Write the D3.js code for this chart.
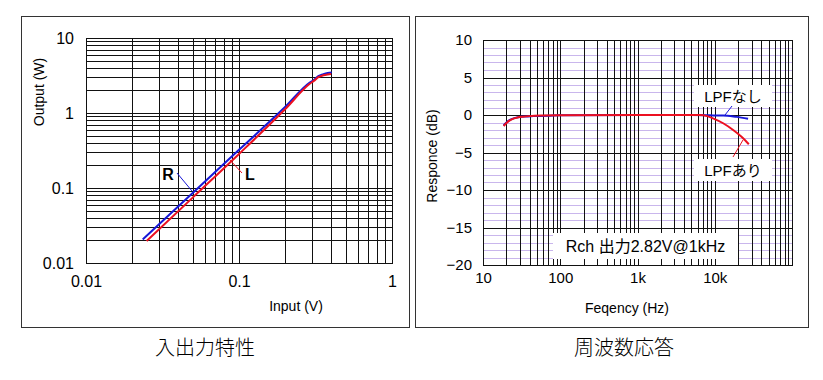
<!DOCTYPE html>
<html><head><meta charset="utf-8">
<script src="https://cdn.jsdelivr.net/npm/d3@7"></script>
<style>body{margin:0;background:#fff}svg{display:block}</style>
</head><body><svg id="c" width="823" height="380"></svg>
<script>
// ---- Input/Output characteristic (left) ----
const ioInputR  = [0.0235, 0.05, 0.1, 0.2, 0.29, 0.31, 0.33, 0.356, 0.38, 0.404];
const ioOutputR = [0.0206, 0.0865, 0.323, 1.20, 2.55, 2.78, 3.1, 3.3, 3.42, 3.47];
const ioInputL  = [0.0249, 0.05, 0.1, 0.2, 0.29, 0.31, 0.33, 0.356, 0.38, 0.40];
const ioOutputL = [0.0197, 0.075, 0.284, 1.12, 2.45, 2.7, 3.0, 3.18, 3.26, 3.3];
const ioXTicks = [0.01, 0.1, 1];
const ioYTicks = [0.01, 0.1, 1, 10];

// ---- Frequency response (right) ----
const freqWith = [18.5, 20.3, 23.5, 28.6, 33, 40, 60, 100, 1000, 3500, 6400, 8000, 9500, 12850, 17300, 23300, 27600];
const respWith = [-1.47, -1.03, -0.57, -0.31, -0.23, -0.15, -0.07, -0.03, 0, 0, 0, -0.15, -0.44, -1.1, -2.0, -3.1, -3.9];
const freqWithout = [18.5, 20.3, 23.5, 28.6, 35, 45, 70, 100, 1000, 5000, 8000, 9500, 12850, 19150, 27000];
const respWithout = [-1.4, -0.95, -0.55, -0.3, -0.2, -0.15, -0.1, -0.03, 0, 0, -0.02, -0.05, -0.05, -0.25, -0.5];
const frXTicks = [10, 100, 1000, 10000];
const frXLabels = ["10", "100", "1k", "10k"];
const frYTicks = [10, 5, 0, -5, -10, -15, -20];

const FONT = "'Liberation Sans', Arial, sans-serif";
const JFONT = "'Noto Sans CJK JP', 'Noto Sans', sans-serif";
const BLUE = "#1717d8", RED = "#ec1020";
const svg = d3.select("#c");

// panel borders
svg.append("rect").attr("x", 21.5).attr("y", 16.5).attr("width", 388).attr("height", 311)
  .attr("fill", "none").attr("stroke", "#333");
svg.append("rect").attr("x", 415.5).attr("y", 16.5).attr("width", 393).attr("height", 311)
  .attr("fill", "none").attr("stroke", "#333");

const px = v => Math.round(v) + 0.5;

// ===== Left chart =====
{
  const x = d3.scaleLog().domain([0.01, 1]).range([86, 392]);
  const y = d3.scaleLog().domain([0.01, 10]).range([263, 38]);
  const g = svg.append("g");
  g.selectAll(".vx").data(x.ticks()).join("line")
    .attr("x1", d => px(x(d))).attr("x2", d => px(x(d))).attr("y1", 38).attr("y2", 263)
    .attr("stroke", "#111").attr("stroke-width", 1);
  g.selectAll(".hy").data(y.ticks()).join("line")
    .attr("y1", d => px(y(d))).attr("y2", d => px(y(d))).attr("x1", 86).attr("x2", 392)
    .attr("stroke", "#111").attr("stroke-width", 1);
  g.append("rect").attr("x", 86.5).attr("y", 38.5).attr("width", 306).attr("height", 225)
    .attr("fill", "none").attr("stroke", "#111");

  const ax = g.append("g").attr("transform", "translate(0,263)")
    .call(d3.axisBottom(x).tickValues(ioXTicks).tickFormat(d => String(d)).tickSize(0).tickPadding(13));
  const ay = g.append("g").attr("transform", "translate(86,0)")
    .call(d3.axisLeft(y).tickValues(ioYTicks).tickFormat(d => String(d)).tickSize(0).tickPadding(12));
  [ax, ay].forEach(a => { a.select(".domain").remove();
    a.selectAll("text").attr("font-family", FONT).attr("font-size", 16).attr("fill", "#000"); });

  g.append("text").attr("x", 296).attr("y", 311).attr("text-anchor", "middle")
    .attr("font-family", FONT).attr("font-size", 14).text("Input (V)");
  g.append("text").attr("transform", "translate(44,92) rotate(-90)").attr("text-anchor", "middle")
    .attr("font-family", FONT).attr("font-size", 14).text("Output (W)");

  const line = d3.line().x(d => x(d[0])).y(d => y(d[1])).curve(d3.curveMonotoneX);
  g.append("path").datum(d3.zip(ioInputR, ioOutputR)).attr("d", line)
    .attr("fill", "none").attr("stroke", BLUE).attr("stroke-width", 2);
  g.append("path").datum(d3.zip(ioInputL, ioOutputL)).attr("d", line)
    .attr("fill", "none").attr("stroke", RED).attr("stroke-width", 2);

  g.append("line").attr("x1", 177).attr("y1", 173).attr("x2", 192).attr("y2", 191)
    .attr("stroke", BLUE).attr("stroke-width", 1);
  g.append("line").attr("x1", 230).attr("y1", 160).attr("x2", 242).attr("y2", 173)
    .attr("stroke", RED).attr("stroke-width", 1);
  g.append("text").attr("x", 168).attr("y", 180).attr("text-anchor", "middle")
    .attr("font-family", FONT).attr("font-size", 16).attr("font-weight", "bold").text("R");
  g.append("text").attr("x", 250).attr("y", 180).attr("text-anchor", "middle")
    .attr("font-family", FONT).attr("font-size", 16).attr("font-weight", "bold").text("L");
}

// ===== Right chart =====
{
  const x = d3.scaleLog().domain([10, 100000]).range([483, 792]);
  const y = d3.scaleLinear().domain([-20, 10]).range([265, 40]);
  const g = svg.append("g");
  const minor = d3.range(-20, 10.01, 1).filter(d => d % 5 !== 0);
  g.selectAll(".pm").data(minor).join("line")
    .attr("y1", d => px(y(d))).attr("y2", d => px(y(d))).attr("x1", 483).attr("x2", 792)
    .attr("stroke", "#c9b6ec").attr("stroke-width", 1);
  g.selectAll(".vx").data(x.ticks()).join("line")
    .attr("x1", d => px(x(d))).attr("x2", d => px(x(d))).attr("y1", 40).attr("y2", 265)
    .attr("stroke", "#111").attr("stroke-width", 1);
  g.selectAll(".hy").data(y.ticks(6)).join("line")
    .attr("y1", d => px(y(d))).attr("y2", d => px(y(d))).attr("x1", 483).attr("x2", 792)
    .attr("stroke", "#111").attr("stroke-width", 1);
  g.append("rect").attr("x", 483.5).attr("y", 40.5).attr("width", 309).attr("height", 225)
    .attr("fill", "none").attr("stroke", "#111");

  const ax = g.append("g").attr("transform", "translate(0,265)")
    .call(d3.axisBottom(x).tickValues(frXTicks).tickFormat((d, i) => frXLabels[i]).tickSize(0).tickPadding(7));
  const ay = g.append("g").attr("transform", "translate(483,0)")
    .call(d3.axisLeft(y).tickValues(frYTicks).tickSize(0).tickPadding(11));
  [ax, ay].forEach(a => { a.select(".domain").remove();
    a.selectAll("text").attr("font-family", FONT).attr("font-size", 15).attr("fill", "#000"); });

  g.append("text").attr("x", 627).attr("y", 313).attr("text-anchor", "middle")
    .attr("font-family", FONT).attr("font-size", 14).text("Feqency (Hz)");
  g.append("text").attr("transform", "translate(437,156) rotate(-90)").attr("text-anchor", "middle")
    .attr("font-family", FONT).attr("font-size", 14).text("Responce (dB)");

  const line = d3.line().x(d => x(d[0])).y(d => y(d[1])).curve(d3.curveMonotoneX);
  g.append("path").datum(d3.zip(freqWithout, respWithout)).attr("d", line)
    .attr("fill", "none").attr("stroke", BLUE).attr("stroke-width", 2);
  g.append("path").datum(d3.zip(freqWith, respWith)).attr("d", line)
    .attr("fill", "none").attr("stroke", RED).attr("stroke-width", 2);

  // annotation boxes
  const boxes = [
    {x: 694, y: 85, w: 78, h: 22, t: "LPFなし", tx: 733, ty: 102},
    {x: 694, y: 159, w: 78, h: 22, t: "LPFあり", tx: 733, ty: 176},
    {x: 553, y: 233, w: 185, h: 26, t: "Rch 出力2.82V@1kHz", tx: 645.5, ty: 252}
  ];
  boxes.forEach(b => {
    g.append("rect").attr("x", b.x).attr("y", b.y).attr("width", b.w).attr("height", b.h).attr("fill", "#fff");
    g.append("text").attr("x", b.tx).attr("y", b.ty).attr("text-anchor", "middle")
      .attr("font-family", FONT + ", " + JFONT).attr("font-size", b.w > 100 ? 16 : 15).text(b.t);
  });
  g.append("line").attr("x1", 725).attr("y1", 115).attr("x2", 732).attr("y2", 106)
    .attr("stroke", BLUE).attr("stroke-width", 1);
  g.append("line").attr("x1", 733).attr("y1", 157).attr("x2", 743).attr("y2", 140)
    .attr("stroke", RED).attr("stroke-width", 1);
}

// captions
svg.append("text").attr("x", 205).attr("y", 355).attr("text-anchor", "middle")
  .attr("font-family", JFONT).attr("font-size", 20).attr("font-weight", 300).text("入出力特性");
svg.append("text").attr("x", 624).attr("y", 355).attr("text-anchor", "middle")
  .attr("font-family", JFONT).attr("font-size", 20).attr("font-weight", 300).text("周波数応答");
</script>
</body></html>
